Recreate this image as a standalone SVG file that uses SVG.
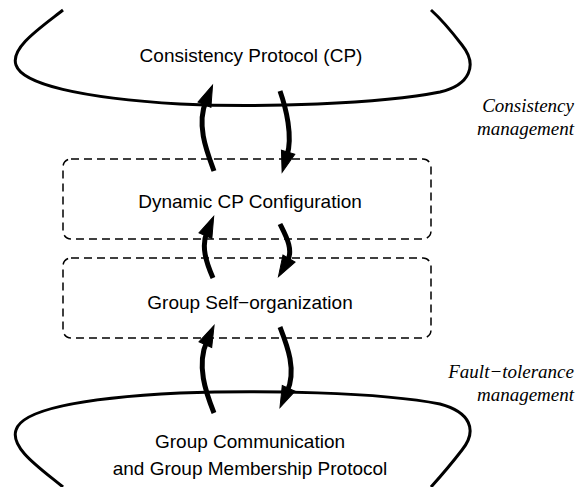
<svg xmlns="http://www.w3.org/2000/svg" width="578" height="487" viewBox="0 0 578 487">
<style>
.curve{fill:none;stroke:#000;stroke-width:3}
.box{fill:none;stroke:#000;stroke-width:1.5;stroke-dasharray:8 5}
.arr{fill:none;stroke:#000;stroke-width:5}
.lbl{font-family:"Liberation Sans",Arial,sans-serif;font-size:19px;fill:#000;text-anchor:middle}
.it{font-family:"Liberation Serif","Times New Roman",serif;font-style:italic;font-size:19px;fill:#000;text-anchor:end}
</style>
<defs>
<marker id="ah" markerUnits="userSpaceOnUse" markerWidth="30" markerHeight="20" viewBox="-6 -10 30 20" refX="0" refY="0" orient="auto" overflow="visible">
<path d="M-4,-7 L17,0 L-4,7 z" fill="#000" stroke="#000" stroke-width="1" stroke-linejoin="miter"/>
</marker>
</defs>
<g id="cp">
<path class="curve" d="M63,10 C40,28 10,48 16,65 C22,84 80,98 180,104 C260,108 380,104 440,92 C470,85 478,65 462,45 C452,32 440,18 431,10"/>
<text class="lbl" x="251" y="62">Consistency Protocol (CP)</text>
</g>
<g id="dyn">
<rect class="box" x="63" y="159" width="368" height="80" rx="8"/>
<text class="lbl" x="250" y="208">Dynamic CP Configuration</text>
</g>
<g id="gso">
<rect class="box" x="63" y="258" width="368" height="80" rx="8"/>
<text class="lbl" x="250" y="309">Group Self−organization</text>
</g>
<g id="gcm">
<path class="curve" d="M63,487 C40,468 10,448 16,430 C22,410 80,398 180,393 C260,390 380,392 440,404 C470,412 478,430 462,450 C452,463 440,477 431,487"/>
<text class="lbl" x="250" y="448">Group Communication</text>
<text class="lbl" x="250" y="475">and Group Membership Protocol</text>
</g>
<g id="labels">
<text class="it" x="574" y="112">Consistency</text>
<text class="it" x="574" y="135">management</text>
<text class="it" x="574" y="378">Fault−tolerance</text>
<text class="it" x="574" y="401">management</text>
</g>
<g id="connectors">
<path class="arr" marker-end="url(#ah)" d="M214,171 C207,152 196,125 206,101"/>
<path class="arr" marker-end="url(#ah)" d="M280,91 C286,108 293,136 287,156"/>
<path class="arr" marker-end="url(#ah)" d="M213,278 C206,262 201,246 207,232"/>
<path class="arr" marker-end="url(#ah)" d="M280,224 C286,236 294,250 287,262"/>
<path class="arr" marker-end="url(#ah)" d="M214,413 C206,393 196,365 207,341"/>
<path class="arr" marker-end="url(#ah)" d="M280,327 C287,345 297,370 287,392"/>
</g>
</svg>
